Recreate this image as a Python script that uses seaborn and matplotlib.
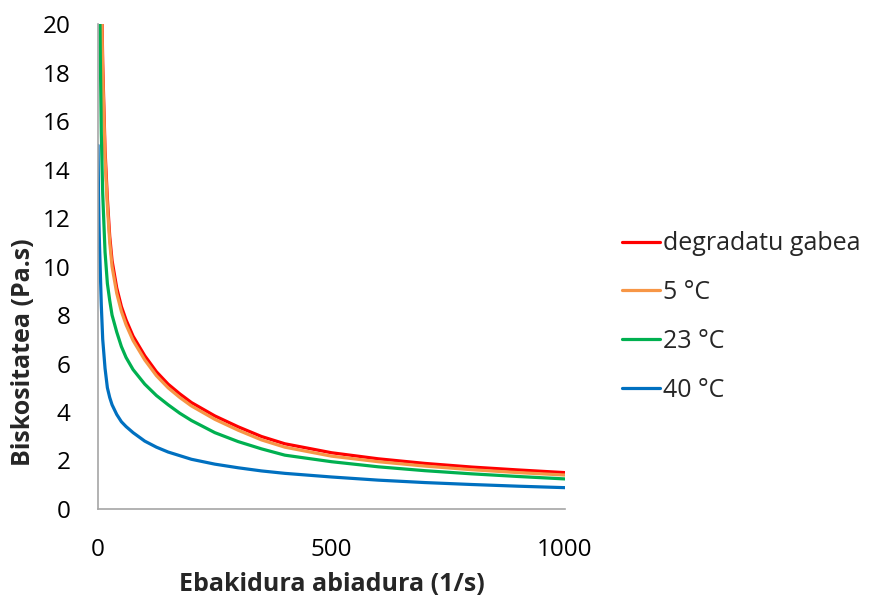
import matplotlib
matplotlib.use("Agg")
import matplotlib.pyplot as plt
import seaborn as sns
import pandas as pd

# Shear rate (1/s) at which viscosity was sampled
shear_rate = [0, 1, 2, 3, 5, 7, 10, 15, 20, 25, 30, 40, 50, 60, 75, 100, 125, 150, 175,
              200, 250, 300, 350, 400, 500, 600, 700, 800, 900, 1000]

# Viscosity (Pa.s) per sample
visc_undegraded = [46, 39, 34, 30, 25, 22, 18.4, 14.8, 12.8, 11.25, 10.25, 9.12, 8.35, 7.8, 7.13,
                   6.32, 5.66, 5.15, 4.75, 4.39, 3.84, 3.39, 2.99, 2.69, 2.32, 2.07, 1.88, 1.73,
                   1.61, 1.50]
visc_5c = [45, 38, 33, 29.5, 24.5, 21.5, 18.0, 14.5, 12.5, 11.0, 10.0, 8.9, 8.15, 7.6, 6.95,
           6.15, 5.5, 5.0, 4.6, 4.25, 3.7, 3.25, 2.85, 2.55, 2.18, 1.95, 1.77, 1.62, 1.50, 1.40]
visc_23c = [31, 27.5, 24.5, 22.0, 18.5, 15.5, 13.0, 10.6, 9.3, 8.6, 8.0, 7.3, 6.7, 6.25, 5.75,
            5.15, 4.68, 4.3, 3.95, 3.65, 3.15, 2.78, 2.48, 2.22, 1.95, 1.74, 1.58, 1.45, 1.34, 1.24]
visc_40c = [15, 13.0, 11.8, 11.0, 9.7, 8.4, 7.0, 5.8, 5.0, 4.6, 4.3, 3.9, 3.6, 3.4, 3.15,
            2.80, 2.55, 2.35, 2.2, 2.05, 1.85, 1.70, 1.57, 1.47, 1.32, 1.19, 1.09, 1.01, 0.94, 0.88]

series_names = ["degradatu gabea", "5 °C", "23 °C", "40 °C"]
series_values = [visc_undegraded, visc_5c, visc_23c, visc_40c]
series_colors = ["#FF0000", "#F79646", "#00B050", "#0070C0"]

rows = []
for name, vals in zip(series_names, series_values):
    for x, y in zip(shear_rate, vals):
        rows.append({"shear": x, "viscosity": y, "sample": name})
df = pd.DataFrame(rows)

sns.set_theme(style="white")
plt.rcParams["font.family"] = ["Open Sans", "DejaVu Sans"]

fig = plt.figure(figsize=(8.73, 6.02), dpi=100)
ax = fig.add_axes([0.1123, 0.1545, 0.5349, 0.8055])

sns.lineplot(data=df, x="shear", y="viscosity", hue="sample",
             hue_order=series_names, palette=series_colors,
             linewidth=2.3, ax=ax, legend=True, sort=False)

ax.set_xlim(0, 1000)
ax.set_ylim(0, 20)
ax.set_xticks([0, 500, 1000])
ax.set_yticks(range(0, 21, 2))
ax.tick_params(axis="both", length=0, labelsize=17.5, colors="#000000")
ax.tick_params(axis="y", pad=20)
ax.tick_params(axis="x", pad=21)

for side in ["top", "right"]:
    ax.spines[side].set_visible(False)
for side in ["left", "bottom"]:
    ax.spines[side].set_color("#A6A6A6")
    ax.spines[side].set_linewidth(1.2)

ax.set_xlabel("Ebakidura abiadura (1/s)", fontsize=18, fontweight="bold")
ax.set_ylabel("Biskositatea (Pa.s)", fontsize=18, fontweight="bold")
ax.xaxis.set_label_coords(0.5, -0.13)
ax.yaxis.set_label_coords(-0.132, 0.324)

sns.move_legend(ax, "center left", bbox_to_anchor=(1.10, 0.396), frameon=False,
                title=None, fontsize=18, handlelength=1.55, handletextpad=0.12,
                labelspacing=0.95, borderaxespad=0)

fig.savefig("out.png", dpi=100)
